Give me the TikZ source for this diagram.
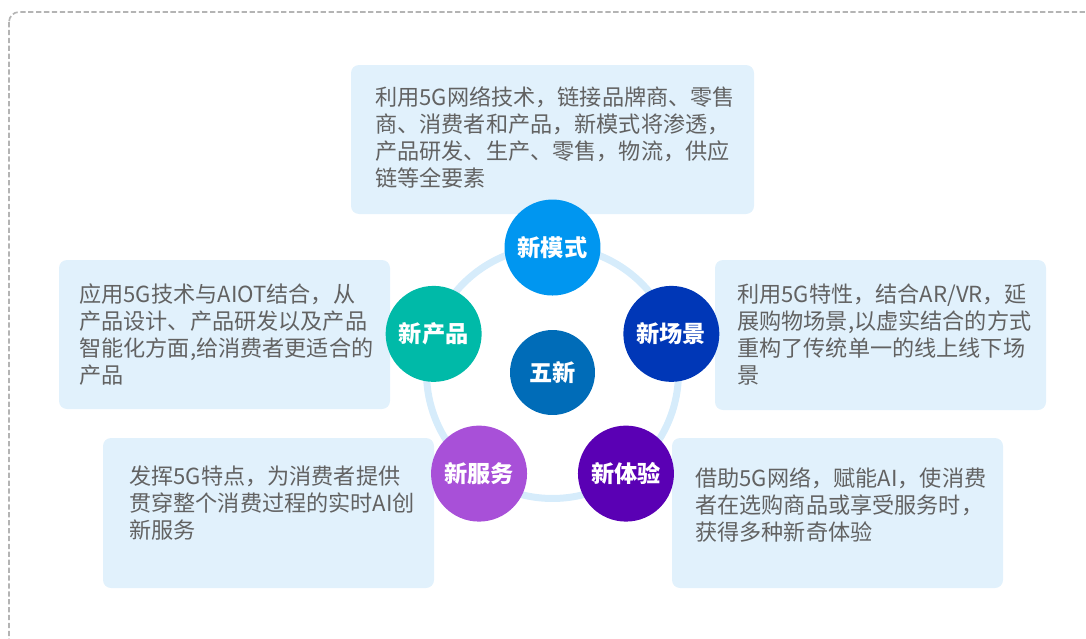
\documentclass[tikz,border=0pt]{standalone}
\usepackage{fontspec}
\usetikzlibrary{calc}
\newfontfamily\cjk{Noto Sans CJK SC}
\definecolor{boxfill}{RGB}{225,241,252}
\definecolor{txtgray}{RGB}{98,98,98}
\definecolor{ringblue}{RGB}{214,236,251}
\definecolor{bordergray}{RGB}{180,180,180}
\definecolor{cmode}{RGB}{0,150,240}
\definecolor{cprod}{RGB}{0,186,168}
\definecolor{cscene}{RGB}{0,55,183}
\definecolor{cserv}{RGB}{168,80,216}
\definecolor{cexp}{RGB}{90,0,180}
\definecolor{ccenter}{RGB}{0,108,184}
\tikzset{
  descbox/.style={fill=boxfill, draw=none, rounded corners=0.16cm},
  desctext/.style={anchor=north west, inner sep=0pt, align=left, text=txtgray,
    font=\cjk\fontsize{12.6pt}{15.5pt}\selectfont},
  bubble/.style={circle, minimum size=1.92cm, inner sep=0pt, text=white,
    font=\cjk\bfseries\fontsize{13.2pt}{15pt}\selectfont},
  hub/.style={circle, minimum size=1.70cm, inner sep=0pt, text=white, fill=ccenter,
    font=\cjk\bfseries\fontsize{13.2pt}{15pt}\selectfont},
}
\begin{document}
\begin{tikzpicture}[x=0.02cm, y=-0.02cm]
\useasboundingbox (0,0) rectangle (1086,639);
\begin{scope}
\clip (0,0) rectangle (1086,639);
\draw[bordergray, line width=0.95pt, dash pattern=on 3pt off 1.5pt, rounded corners=0.2cm]
  (9,12) rectangle (1120,680);
\end{scope}
% description boxes
\path[descbox] (351,65) rectangle (754,214);
\path[descbox] (59,260) rectangle (390,409);
\path[descbox] (715,260) rectangle (1046,410);
\path[descbox] (103,438) rectangle (434,588);
\path[descbox] (672,438) rectangle (1003,588);
\node[desctext] (tmode) at (375,86) {利用5G网络技术，链接品牌商、零售\\商、消费者和产品，新模式将渗透，\\产品研发、生产、零售，物流，供应\\链等全要素};
\node[desctext] (tprod) at (79,283) {应用5G技术与AIOT结合，从\\产品设计、产品研发以及产品\\智能化方面,给消费者更适合的\\产品};
\node[desctext] (tscene) at (737,283) {利用5G特性，结合AR/VR，延\\展购物场景,以虚实结合的方式\\重构了传统单一的线上线下场\\景};
\node[desctext] (tserv) at (129,465) {发挥5G特点，为消费者提供\\贯穿整个消费过程的实时AI创\\新服务};
\node[desctext] (texp) at (695,467) {借助5G网络，赋能AI，使消费\\者在选购商品或享受服务时，\\获得多种新奇体验};
% ring
\coordinate (c) at (552.5,372.5);
\draw[ringblue, line width=0.14cm] (c) circle (2.52cm);
\node[hub] (hub) at (c) {五新};
\node[bubble, fill=cmode]  (mode)  at ($(c)+(90:2.5cm)$) {新模式};
\node[bubble, fill=cprod]  (prod)  at ($(c)+(162:2.5cm)$) {新产品};
\node[bubble, fill=cscene] (scene) at ($(c)+(18:2.5cm)$) {新场景};
\node[bubble, fill=cserv]  (serv)  at ($(c)+(234:2.5cm)$) {新服务};
\node[bubble, fill=cexp]   (exp)   at ($(c)+(306:2.5cm)$) {新体验};
\end{tikzpicture}
\end{document}
